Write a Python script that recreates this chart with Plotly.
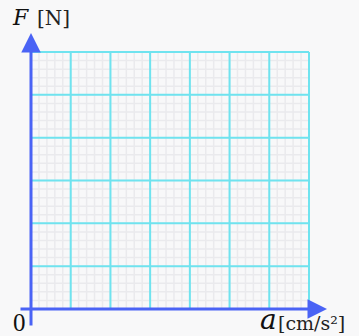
import numpy as np
import plotly.graph_objects as go

# Graph-paper layout: 7 major columns along a, 6 major rows along F
a_major = [0, 1, 2, 3, 4, 5, 6, 7]
f_major = [0, 1, 2, 3, 4, 5, 6]
minor_per_major = 5

x_label = "<i>a</i>"
x_unit = "[cm/s²]"
y_label = "<i>F</i>"
y_unit = "[N]"
origin_label = "0"

W, H = 359, 336
AXIS_BLUE = "#4a63f5"
MAJOR_CYAN = "#6fe3ef"
MINOR_GRAY = "#eaeaed"
BG = "#f8f8f9"

x_lo, x_hi = a_major[0], a_major[-1]
y_lo, y_hi = f_major[0], f_major[-1]


def grid_segments(positions, lo, hi, vertical):
    xs, ys = [], []
    for p in positions:
        if vertical:
            xs += [p, p, None]
            ys += [lo, hi, None]
        else:
            xs += [lo, hi, None]
            ys += [p, p, None]
    return xs, ys


a_minor = [v for v in np.arange(x_lo, x_hi + 1e-9, 1 / minor_per_major)]
f_minor = [v for v in np.arange(y_lo, y_hi + 1e-9, 1 / minor_per_major)]

fig = go.Figure()

mx1, my1 = grid_segments(a_minor, y_lo, y_hi, True)
mx2, my2 = grid_segments(f_minor, x_lo, x_hi, False)
fig.add_trace(go.Scatter(x=mx1 + mx2, y=my1 + my2, mode="lines",
                         line=dict(color=MINOR_GRAY, width=1.5),
                         hoverinfo="skip", showlegend=False))

Mx1, My1 = grid_segments(a_major[1:], y_lo, y_hi, True)
Mx2, My2 = grid_segments(f_major[1:], x_lo, x_hi, False)
fig.add_trace(go.Scatter(x=Mx1 + Mx2, y=My1 + My2, mode="lines",
                         line=dict(color=MAJOR_CYAN, width=2),
                         hoverinfo="skip", showlegend=False))

# pixel scale: a=0 at x=31px, a=7 at x=309px; F=0 at y=309px, F=6 at y=52px
sx = (309 - 31) / (x_hi - x_lo)
sy = (309 - 52) / (y_hi - y_lo)
x_range = [-31 / sx, (W - 31) / sx]
y_range = [-(H - 309) / sy, 309 / sy]

# axis arrows
fig.add_annotation(x=(327 - 31) / sx, y=0, ax=(19 - 31) / sx, ay=0,
                   xref="x", yref="y", axref="x", ayref="y", text="",
                   showarrow=True, arrowhead=2, arrowsize=1.3,
                   arrowwidth=3, arrowcolor=AXIS_BLUE)
fig.add_annotation(x=0, y=(309 - 33) / sy, ax=0, ay=(309 - 327) / sy,
                   xref="x", yref="y", axref="x", ayref="y", text="",
                   showarrow=True, arrowhead=2, arrowsize=1.3,
                   arrowwidth=3, arrowcolor=AXIS_BLUE)


def label(text, px, py, family, size, color="#111"):
    fig.add_annotation(x=px / W, y=1 - py / H, xref="paper", yref="paper",
                       xanchor="left", yanchor="middle", showarrow=False,
                       text=text, font=dict(family=family, size=size, color=color))


label(y_label, 10, 17, "DejaVu Serif", 22)
label(y_unit, 35, 18, "DejaVu Serif", 20, "#222")
label(origin_label, 11, 322, "Liberation Serif", 25)
label(x_label, 258, 319, "DejaVu Serif", 28)
label(x_unit, 276, 323, "DejaVu Serif", 19, "#222")

fig.update_xaxes(range=x_range, visible=False, fixedrange=True)
fig.update_yaxes(range=y_range, visible=False, fixedrange=True)
fig.update_layout(width=W, height=H, margin=dict(l=0, r=0, t=0, b=0, pad=0),
                  paper_bgcolor=BG, plot_bgcolor=BG, showlegend=False)

fig.write_html("out.html", config={"displayModeBar": False})
